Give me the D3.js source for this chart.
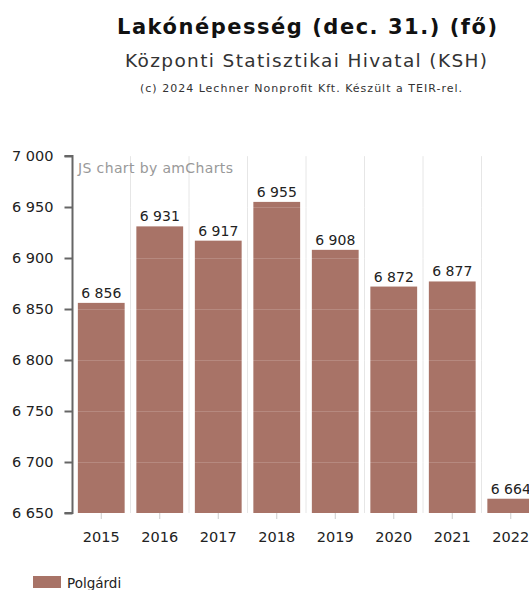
<!DOCTYPE html>
<html>
<head>
<meta charset="utf-8">
<script src="https://cdn.jsdelivr.net/npm/d3@7"></script>
<style>
  body { margin: 0; background: #fff; }
  svg { display: block; font-family: "DejaVu Sans", Verdana, sans-serif; }
</style>
</head>
<body>
<svg width="529" height="590"></svg>
<script>
var years = ["2015", "2016", "2017", "2018", "2019", "2020", "2021", "2022"];
var population = [6856, 6931, 6917, 6955, 6908, 6872, 6877, 6664];
var yTicks = [6650, 6700, 6750, 6800, 6850, 6900, 6950, 7000];
var seriesName = "Polgárdi";

var svg = d3.select("svg");
var plot = {left: 72, top: 156, right: 540, bottom: 513};
var barColor = "#a87367";

var fmt = function(v) { return d3.format(",")(v).replace(/,/g, " "); };

var xScale = d3.scaleBand().domain(years)
    .range([plot.left, plot.right])
    .paddingInner(0.2).paddingOuter(0.1);
var yScale = d3.scaleLinear().domain([6650, 7000]).range([plot.bottom, plot.top]);

// titles
svg.append("text").attr("x", 307).attr("y", 34)
    .attr("text-anchor", "middle").style("font-size", "21px").style("font-weight", "bold")
    .attr("textLength", 380).attr("lengthAdjust", "spacing")
    .attr("fill", "#111").text("Lakónépesség (dec. 31.) (fő)");
svg.append("text").attr("x", 306).attr("y", 67)
    .attr("text-anchor", "middle").style("font-size", "18.5px")
    .attr("textLength", 362).attr("lengthAdjust", "spacing")
    .attr("fill", "#333").text("Központi Statisztikai Hivatal (KSH)");
svg.append("text").attr("x", 301).attr("y", 92)
    .attr("text-anchor", "middle").style("font-size", "11px")
    .attr("textLength", 322).attr("lengthAdjust", "spacing")
    .attr("fill", "#333").text("(c) 2024 Lechner Nonprofit Kft. Készült a TEIR-rel.");

// vertical grid at category boundaries
var step = xScale.step();
var bounds = d3.range(1, years.length).map(function(i) { return xScale(years[i]) - step * xScale.paddingInner() / 2; });
svg.append("g").selectAll("line").data(bounds).enter()
    .append("line")
    .attr("x1", function(d) { return d; }).attr("x2", function(d) { return d; })
    .attr("y1", plot.top).attr("y2", plot.bottom)
    .attr("stroke", "#e6e6e6").attr("stroke-width", 1);

// watermark
svg.append("text").attr("x", 78).attr("y", 173)
    .style("font-size", "14px").attr("fill", "#999")
    .attr("textLength", 155).attr("lengthAdjust", "spacing")
    .text("JS chart by amCharts");

// bars
svg.append("g").selectAll("rect").data(population).enter()
    .append("rect")
    .attr("x", function(d, i) { return xScale(years[i]); })
    .attr("y", function(d) { return yScale(d); })
    .attr("width", xScale.bandwidth())
    .attr("height", function(d) { return plot.bottom - yScale(d); })
    .attr("fill", barColor);

// horizontal grid over bars
svg.append("g").selectAll("line").data(yTicks.slice(1)).enter()
    .append("line")
    .attr("x1", plot.left).attr("x2", plot.right)
    .attr("y1", function(d) { return Math.round(yScale(d)) + 0.5; })
    .attr("y2", function(d) { return Math.round(yScale(d)) + 0.5; })
    .attr("stroke", "#fff").attr("stroke-opacity", 0.16);

// value labels
svg.append("g").selectAll("text").data(population).enter()
    .append("text")
    .attr("x", function(d, i) { return xScale(years[i]) + xScale.bandwidth() / 2; })
    .attr("y", function(d) { return yScale(d) - 5; })
    .attr("text-anchor", "middle")
    .style("font-size", "14px").attr("fill", "#222")
    .text(function(d) { return fmt(d); });

// y axis
var yAxis = svg.append("g")
    .attr("transform", "translate(" + (plot.left + 0.5) + ",0)")
    .call(d3.axisLeft(yScale).tickValues(yTicks).tickSize(8).tickPadding(11).tickFormat(fmt));
yAxis.select(".domain").attr("stroke", "#666").attr("stroke-width", 2)
    .attr("d", "M-8," + plot.top + "H0V" + plot.bottom + "H-8");
yAxis.selectAll(".tick line").attr("stroke", "#666").attr("stroke-width", 2);
yAxis.selectAll(".tick text").style("font-size", "14.5px").attr("fill", "#222")
    .style("font-family", "DejaVu Sans, Verdana, sans-serif");

// x axis
var xAxis = svg.append("g")
    .attr("transform", "translate(0," + plot.bottom + ")")
    .call(d3.axisBottom(xScale).tickSize(6).tickPadding(13));
xAxis.select(".domain").remove();
xAxis.selectAll(".tick line").attr("stroke", "#ccc");
xAxis.selectAll(".tick text").style("font-size", "14.5px").attr("fill", "#222")
    .style("font-family", "DejaVu Sans, Verdana, sans-serif");

// legend
var legend = svg.append("g");
legend.append("rect").attr("x", 33).attr("y", 576).attr("width", 28).attr("height", 12)
    .attr("fill", barColor);
legend.append("text").attr("x", 67).attr("y", 588)
    .style("font-size", "13.5px").attr("fill", "#222").text(seriesName);
</script>
</body>
</html>
